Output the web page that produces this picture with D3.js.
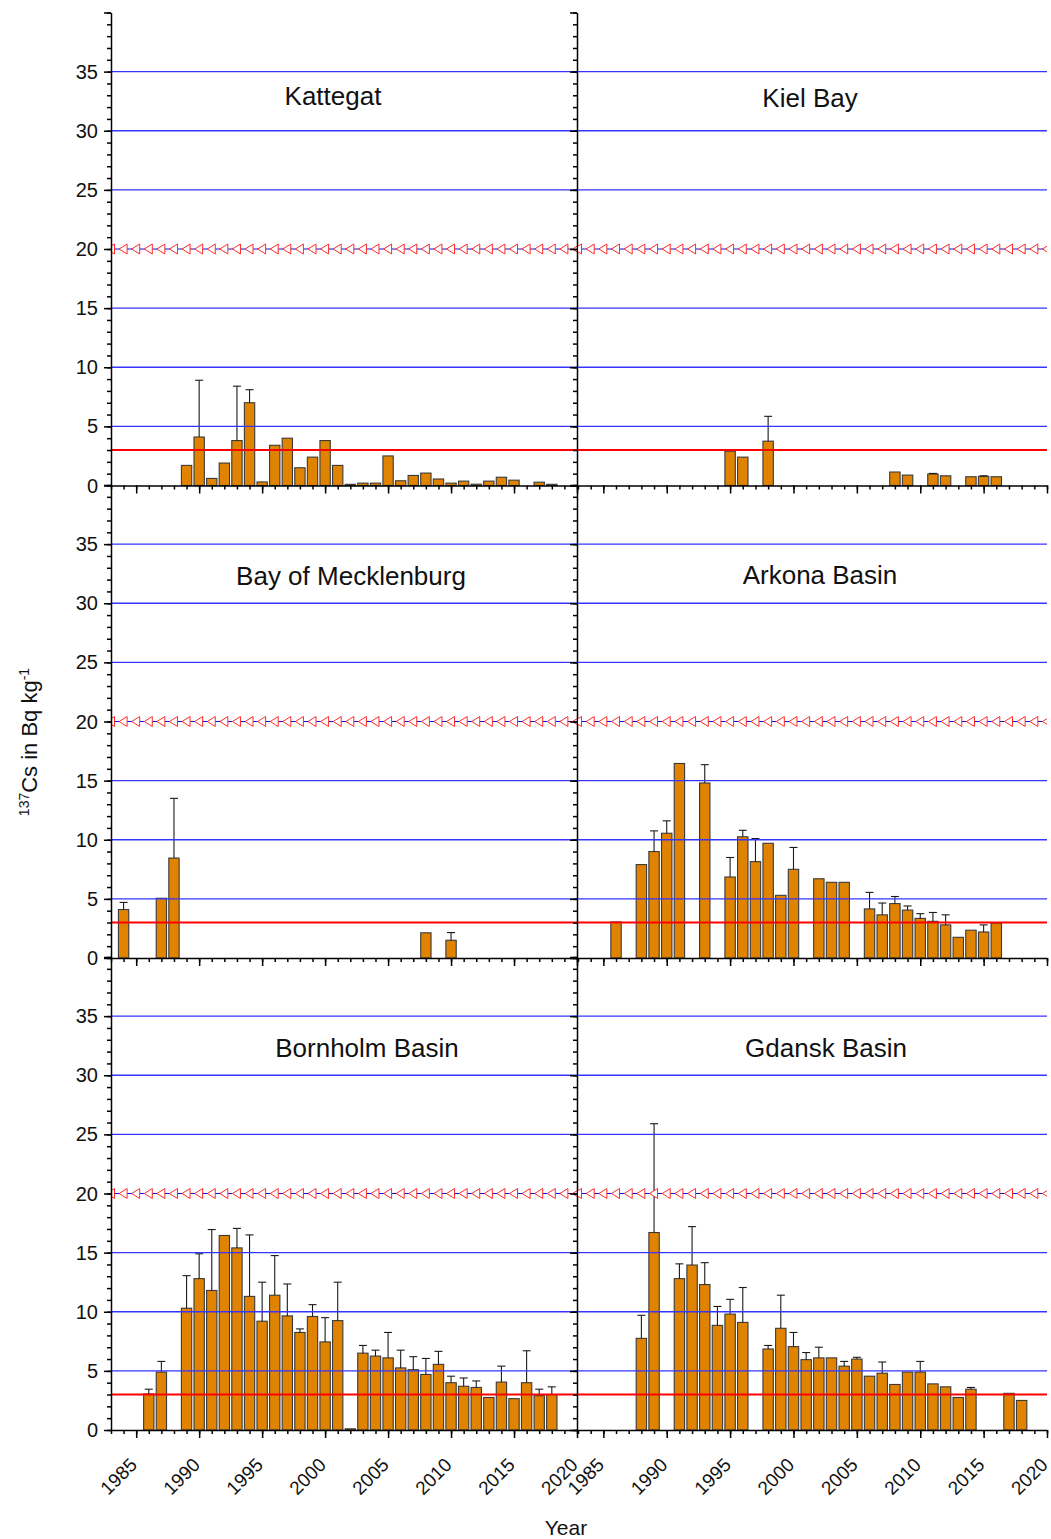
<!DOCTYPE html>
<html>
<head>
<meta charset="utf-8">
<script src="https://cdn.jsdelivr.net/npm/d3@7"></script>
<style>
  body { margin: 0; background: #fff; }
  svg { display: block; font-family: "Liberation Sans", Arial, sans-serif; }
</style>
</head>
<body>
<div id="chart"></div>
<script>
// station names in panel order (left/right, top to bottom)
const stations = ["Kattegat", "Kiel Bay", "Bay of Mecklenburg", "Arkona Basin", "Bornholm Basin", "Gdansk Basin"];

// Kattegat
const katYears  = [1989,1990,1991,1992,1993,1994,1995,1996,1997,1998,1999,2000,2001,2002,2003,2004,2005,2006,2007,2008,2009,2010,2011,2012,2013,2014,2015,2017,2018];
const katValues = [1.7,4.1,0.6,1.9,3.8,7.0,0.3,3.4,4.0,1.5,2.4,3.8,1.7,0.1,0.2,0.2,2.5,0.4,0.85,1.05,0.55,0.2,0.37,0.11,0.37,0.7,0.45,0.28,0.1];
const katErrors = [0,4.8,0,0,4.6,1.1,0,0,0,0,0,0,0,0,0,0,0,0,0,0,0,0,0,0,0,0,0,0,0];

// Kiel Bay
const kielYears  = [1995,1996,1998,2008,2009,2011,2012,2014,2015,2016];
const kielValues = [2.9,2.4,3.75,1.14,0.88,0.97,0.82,0.74,0.77,0.74];
const kielErrors = [0,0,2.1,0,0,0.05,0,0,0.05,0];

// Bay of Mecklenburg
const mecYears  = [1984,1987,1988,2008,2010];
const mecValues = [4.1,5.05,8.45,2.13,1.5];
const mecErrors = [0.6,0,5.05,0,0.65];

// Arkona Basin
const arkYears  = [1986,1988,1989,1990,1991,1993,1995,1996,1997,1998,1999,2000,2002,2003,2004,2006,2007,2008,2009,2010,2011,2012,2013,2014,2015,2016];
const arkValues = [3.05,7.9,9.0,10.55,16.45,14.8,6.85,10.25,8.15,9.7,5.3,7.5,6.7,6.4,6.4,4.15,3.65,4.6,4.05,3.35,3.1,2.8,1.75,2.35,2.2,2.95];
const arkErrors = [0,0,1.75,1.05,0,1.55,1.65,0.55,1.95,0,0,1.85,0,0,0,1.4,1.0,0.6,0.35,0.4,0.75,0.85,0,0,0.6,0];

// Bornholm Basin
const borYears  = [1986,1987,1989,1990,1991,1992,1993,1994,1995,1996,1997,1998,1999,2000,2001,2002,2003,2004,2005,2006,2007,2008,2009,2010,2011,2012,2013,2014,2015,2016,2017,2018];
const borValues = [3.05,4.9,10.3,12.8,11.8,16.45,15.4,11.3,9.2,11.4,9.65,8.25,9.6,7.45,9.25,0.1,6.5,6.25,6.1,5.25,5.1,4.7,5.55,4.0,3.7,3.6,2.75,4.05,2.65,4.0,2.9,3.0];
const borErrors = [0.4,0.9,2.75,2.1,5.15,0,1.65,5.2,3.3,3.35,2.7,0.3,1.0,2.05,3.25,0,0.65,0.5,2.15,1.5,1.1,1.35,1.1,0.55,0.7,0.55,0,1.35,0,2.7,0.55,0.65];

// Gdansk Basin
const gdaYears  = [1988,1989,1991,1992,1993,1994,1995,1996,1998,1999,2000,2001,2002,2003,2004,2005,2006,2007,2008,2009,2010,2011,2012,2013,2014,2017,2018];
const gdaValues = [7.75,16.7,12.8,13.95,12.3,8.85,9.8,9.1,6.85,8.6,7.05,5.95,6.1,6.1,5.4,6.0,4.55,4.8,3.85,4.9,4.9,3.9,3.65,2.75,3.45,3.1,2.5];
const gdaErrors = [1.95,9.2,1.25,3.25,1.85,1.6,1.25,2.95,0.3,2.8,1.2,0.6,0.9,0,0.4,0.15,0,0.95,0,0,0.9,0,0,0,0.15,0,0];

// axis ticks
const yMajor = [0,5,10,15,20,25,30,35,40];
const yLabels = [0,5,10,15,20,25,30,35];
const gridValues = [5,10,15,25,30,35];
const xMajor = [1985,1990,1995,2000,2005,2010,2015,2020];
const yearDomain = [1983, 2020];
const yDomain = [0, 40];
const refLevel = 3;      // red reference line
const limitLevel = 20;   // red triangle line

const series = [
  {years: katYears, values: katValues, errors: katErrors},
  {years: kielYears, values: kielValues, errors: kielErrors},
  {years: mecYears, values: mecValues, errors: mecErrors},
  {years: arkYears, values: arkValues, errors: arkErrors},
  {years: borYears, values: borValues, errors: borErrors},
  {years: gdaYears, values: gdaValues, errors: gdaErrors}
];

// layout
const W = 1051, H = 1539;
const colRange = [[111, 577], [578, 1047]];
const rowBottom = [485.5, 958, 1430];
const rowH = 473;
const titlePos = [[333, 105], [810, 107], [351, 585], [820, 584], [367, 1057], [826, 1057]];

const svg = d3.select("#chart").append("svg")
  .attr("width", W).attr("height", H);

const defs = svg.append("defs");

series.forEach((s, i) => {
  const col = i % 2, row = Math.floor(i / 2);
  const x = d3.scaleLinear().domain(yearDomain).range(colRange[col]);
  const y = d3.scaleLinear().domain(yDomain).range([rowBottom[row], rowBottom[row] - rowH]);
  const step = x(1984) - x(1983);
  const bw = step * 0.82;

  const clipId = "clip" + i;
  defs.append("clipPath").attr("id", clipId).append("rect")
    .attr("x", colRange[col][0]).attr("y", rowBottom[row] - rowH)
    .attr("width", colRange[col][1] - colRange[col][0]).attr("height", rowH);

  const g = svg.append("g");
  const rows = s.years.map((yr, k) => ({year: yr, value: s.values[k], err: s.errors[k]}));

  // bars
  g.selectAll("rect.bar").data(rows).enter().append("rect")
    .attr("class", "bar")
    .attr("x", d => x(d.year) - bw / 2)
    .attr("y", d => y(d.value))
    .attr("width", bw)
    .attr("height", d => y(0) - y(d.value))
    .attr("fill", "#e08300")
    .attr("stroke", "#3a3a3a")
    .attr("stroke-width", 1.1);

  // upper error bars
  const eb = g.selectAll("g.err").data(rows.filter(d => d.err > 0)).enter().append("g")
    .attr("stroke", "#1a1a1a").attr("stroke-width", 1.1);
  eb.append("line")
    .attr("x1", d => x(d.year)).attr("x2", d => x(d.year))
    .attr("y1", d => y(d.value)).attr("y2", d => y(d.value + d.err));
  eb.append("line")
    .attr("x1", d => x(d.year) - 4).attr("x2", d => x(d.year) + 4)
    .attr("y1", d => y(d.value + d.err)).attr("y2", d => y(d.value + d.err));

  // blue grid lines
  g.selectAll("line.grid").data(gridValues.concat([limitLevel])).enter().append("line")
    .attr("class", "grid")
    .attr("x1", colRange[col][0]).attr("x2", colRange[col][1])
    .attr("y1", d => y(d)).attr("y2", d => y(d))
    .attr("stroke", d => d === limitLevel ? "#1010e0" : "#3535ff")
    .attr("stroke-width", d => d === limitLevel ? 1 : 1.4);

  // red reference line
  g.append("line")
    .attr("x1", colRange[col][0]).attr("x2", colRange[col][1])
    .attr("y1", y(refLevel)).attr("y2", y(refLevel))
    .attr("stroke", "#ff0000").attr("stroke-width", 2);

  // triangle markers at limit level
  g.append("g").attr("clip-path", `url(#${clipId})`)
    .selectAll("path").data(d3.range(yearDomain[0], yearDomain[1] + 1)).enter().append("path")
    .attr("d", "M-4.5,0L3.5,-5L3.5,5Z")
    .attr("transform", d => `translate(${x(d)},${y(limitLevel)})`)
    .attr("fill", "#fff")
    .attr("stroke", "#ff2a2a")
    .attr("stroke-width", 1);

  // x axis (bottom of each panel)
  const xg = svg.append("g").attr("transform", `translate(0,${rowBottom[row]})`);
  xg.call(d3.axisBottom(x).tickValues(d3.range(yearDomain[0], yearDomain[1] + 1))
      .tickSize(4).tickSizeOuter(0).tickFormat(""));
  xg.append("g").call(d3.axisBottom(x).tickValues(xMajor).tickSize(8).tickSizeOuter(0).tickFormat(""))
    .select(".domain").remove();
  xg.selectAll("line").attr("stroke", "#000").attr("stroke-width", 1.5);
  xg.selectAll(".domain").attr("stroke", "#000").attr("stroke-width", 1.5);

  if (row === 2) {
    svg.append("g").selectAll("text").data(xMajor).enter().append("text")
      .attr("transform", d => `translate(${x(d) + 2},${rowBottom[row] + 36}) rotate(-45)`)
      .attr("text-anchor", "end")
      .attr("font-size", 19)
      .attr("fill", "#111")
      .text(d => d);
  }

  // y axes
  if (col === 0) {
    const yg = svg.append("g").attr("transform", `translate(${colRange[0][0]},0)`);
    yg.call(d3.axisLeft(y).tickValues(d3.range(0, 41)).tickSize(4).tickSizeOuter(0).tickFormat(""));
    yg.append("g").call(d3.axisLeft(y).tickValues(yMajor).tickSize(7).tickSizeOuter(0).tickFormat(""))
      .select(".domain").remove();
    yg.selectAll("line").attr("stroke", "#000").attr("stroke-width", 1.5);
    yg.selectAll(".domain").attr("stroke", "#000").attr("stroke-width", 1.5);
    yg.append("g").selectAll("text").data(yLabels).enter().append("text")
      .attr("x", -13).attr("y", d => y(d)).attr("dy", "0.35em")
      .attr("text-anchor", "end").attr("font-size", 20).attr("fill", "#111")
      .text(d => d);

    // shared middle axis, ticks pointing left
    const mg = svg.append("g").attr("transform", `translate(${colRange[0][1]},0)`);
    mg.call(d3.axisLeft(y).tickValues(d3.range(0, 41)).tickSize(4).tickSizeOuter(0).tickFormat(""));
    mg.append("g").call(d3.axisLeft(y).tickValues(yMajor).tickSize(7).tickSizeOuter(0).tickFormat(""))
      .select(".domain").remove();
    mg.selectAll("line").attr("stroke", "#000").attr("stroke-width", 1.5);
    mg.selectAll(".domain").attr("stroke", "#000").attr("stroke-width", 1.5);
  }

  // panel title
  svg.append("text")
    .attr("x", titlePos[i][0]).attr("y", titlePos[i][1])
    .attr("text-anchor", "middle")
    .attr("font-size", 26)
    .attr("fill", "#111")
    .text(stations[i]);
});

// axis titles
const yTitle = svg.append("text")
  .attr("transform", "translate(37,742) rotate(-90)")
  .attr("text-anchor", "middle")
  .attr("font-size", 22)
  .attr("fill", "#111");
yTitle.append("tspan").attr("font-size", 14).attr("baseline-shift", "super").text("137");
yTitle.append("tspan").text("Cs in Bq kg");
yTitle.append("tspan").attr("font-size", 14).attr("baseline-shift", "super").text("-1");

svg.append("text")
  .attr("x", 566).attr("y", 1535)
  .attr("text-anchor", "middle")
  .attr("font-size", 21)
  .attr("fill", "#111")
  .text("Year");
</script>
</body>
</html>
